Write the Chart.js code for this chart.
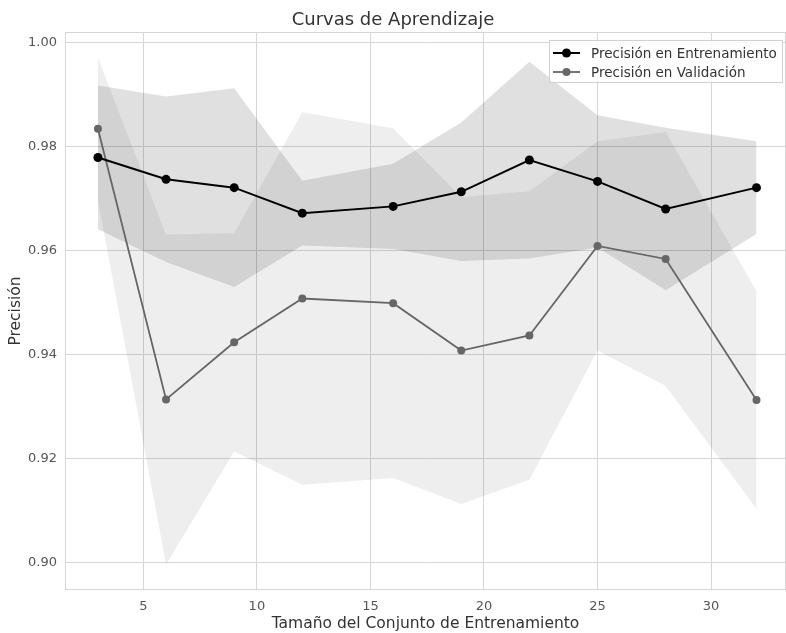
<!DOCTYPE html>
<html>
<head>
<meta charset="utf-8">
<script src="https://cdn.jsdelivr.net/npm/chart.js@4/dist/chart.umd.min.js"></script>
<style>
  html, body { margin: 0; padding: 0; background: #fff; overflow: hidden; }
  #wrap { width: 786px; height: 633px; }
</style>
</head>
<body>
<div id="wrap"><canvas id="lc" width="786" height="633"></canvas></div>
<script>
// training set sizes
const trainSizes = [3, 6, 9, 12, 16, 19, 22, 25, 28, 32];

// training accuracy, mean and the shaded band
const trainMean  = [0.9779, 0.9737, 0.9721, 0.9672, 0.9685, 0.9713, 0.9774, 0.9733, 0.9680, 0.9721];
const trainUpper = [0.9917, 0.9896, 0.9912, 0.9734, 0.9767, 0.9846, 0.9963, 0.9860, 0.9836, 0.9810];
const trainLower = [0.9641, 0.9578, 0.9530, 0.9610, 0.9603, 0.9580, 0.9585, 0.9606, 0.9524, 0.9632];

// validation accuracy, mean and the shaded band
const valMean  = [0.9834, 0.9314, 0.9424, 0.9508, 0.9499, 0.9408, 0.9437, 0.9609, 0.9584, 0.9313];
const valUpper = [0.9971, 0.9631, 0.9634, 0.9866, 0.9835, 0.9703, 0.9714, 0.9810, 0.9828, 0.9522];
const valLower = [0.9697, 0.8997, 0.9214, 0.9150, 0.9163, 0.9113, 0.9160, 0.9408, 0.9340, 0.9104];

const xTicks = [5, 10, 15, 20, 25, 30];
const yTicks = [0.90, 0.92, 0.94, 0.96, 0.98, 1.00];

const pts = ys => ys.map((y, i) => ({ x: trainSizes[i], y: y }));

const FONT = "'DejaVu Sans', sans-serif";
const GRID = '#d6d6d6';

// band edges: invisible, only used for the fill
function edge(ys, fillTo, color) {
    return {
        label: '', data: pts(ys), borderWidth: 0, pointRadius: 0,
        borderColor: 'rgba(0,0,0,0)', backgroundColor: color,
        fill: fillTo === null ? false : fillTo, isBand: true
    };
}

// draws the frame and the boxed legend at the top right
const frameAndLegend = {
    id: 'frameAndLegend',
    afterDraw(chart) {
        const ctx = chart.ctx;
        const a = chart.chartArea;
        ctx.save();
        ctx.strokeStyle = GRID;
        ctx.lineWidth = 1;
        ctx.strokeRect(a.left + 0.5, a.top + 0.5, a.right - a.left - 1, a.bottom - a.top - 1);

        const items = chart.data.datasets.filter(d => !d.isBand);
        const bx = 549, by = 40, bw = 233, bh = 42;
        ctx.fillStyle = 'rgba(255,255,255,0.85)';
        ctx.fillRect(bx, by, bw, bh);
        ctx.strokeStyle = '#d0d0d0';
        ctx.strokeRect(bx + 0.5, by + 0.5, bw, bh);
        ctx.font = '13.5px ' + FONT;
        ctx.textBaseline = 'middle';
        items.forEach((d, i) => {
            const y = by + 13 + i * 19;
            ctx.strokeStyle = d.borderColor;
            ctx.lineWidth = d.borderWidth;
            ctx.beginPath();
            ctx.moveTo(bx + 4, y);
            ctx.lineTo(bx + 31, y);
            ctx.stroke();
            ctx.fillStyle = d.pointBackgroundColor;
            ctx.beginPath();
            ctx.arc(bx + 17.5, y, d.pointRadius, 0, Math.PI * 2);
            ctx.fill();
            ctx.fillStyle = '#333';
            ctx.fillText(d.label, bx + 42, y + 1);
        });
        ctx.restore();
    }
};

const config = {
    type: 'line',
    data: {
        datasets: [
            {
                label: 'Precisión en Entrenamiento', data: pts(trainMean),
                borderColor: '#000', borderWidth: 2, backgroundColor: '#000',
                pointBackgroundColor: '#000', pointBorderWidth: 0, pointRadius: 4.5,
                fill: false, order: 0
            },
            {
                label: 'Precisión en Validación', data: pts(valMean),
                borderColor: '#666', borderWidth: 1.8, backgroundColor: '#666',
                pointBackgroundColor: '#666', pointBorderWidth: 0, pointRadius: 4,
                fill: false, order: 1
            },
            Object.assign(edge(trainUpper, null, 'rgba(0,0,0,0.12)'), { order: 2 }),
            Object.assign(edge(trainLower, 2, 'rgba(0,0,0,0.12)'), { order: 3 }),
            Object.assign(edge(valUpper, null, 'rgba(0,0,0,0.065)'), { order: 4 }),
            Object.assign(edge(valLower, 4, 'rgba(0,0,0,0.065)'), { order: 5 })
        ]
    },
    options: {
        responsive: false,
        animation: false,
        layout: { autoPadding: false, padding: 0 },
        elements: { line: { tension: 0 } },
        plugins: {
            legend: { display: false },
            tooltip: { enabled: false },
            filler: { drawTime: 'beforeDatasetsDraw' },
            title: {
                display: true, text: 'Curvas de Aprendizaje', color: '#333',
                font: { family: FONT, size: 18, weight: 'normal' },
                padding: { top: 10, bottom: 0.4 }
            }
        },
        scales: {
            x: {
                type: 'linear', min: 1.55, max: 33.3,
                afterBuildTicks: s => { s.ticks = xTicks.map(v => ({ value: v })); },
                afterFit: s => { s.height = 43; },
                grid: { color: GRID, drawTicks: false },
                border: { display: false },
                ticks: { color: '#555', padding: 9, font: { family: FONT, size: 13 } },
                title: {
                    display: true, text: 'Tamaño del Conjunto de Entrenamiento', color: '#333',
                    font: { family: FONT, size: 15.5 }, padding: { top: 0, bottom: 0 }
                }
            },
            y: {
                min: 0.8948, max: 1.0020,
                afterBuildTicks: s => { s.ticks = yTicks.map(v => ({ value: v })); },
                afterFit: s => { s.width = 65; },
                grid: { color: GRID, drawTicks: false },
                border: { display: false },
                ticks: {
                    color: '#555', padding: 8, font: { family: FONT, size: 13 },
                    callback: v => Number(v).toFixed(2)
                },
                title: {
                    display: true, text: 'Precisión', color: '#333',
                    font: { family: FONT, size: 15.5 }, padding: { top: 7, bottom: 0 }
                }
            }
        }
    },
    plugins: [frameAndLegend]
};

new Chart(document.getElementById('lc').getContext('2d'), config);
</script>
</body>
</html>
